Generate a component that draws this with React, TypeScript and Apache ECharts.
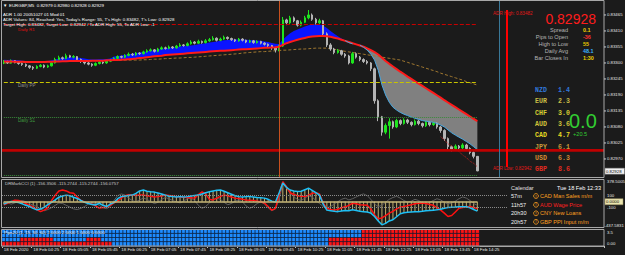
import React, { useEffect, useRef } from "react";
import * as echarts from "echarts";

// ---------- data ----------
const SLOTS = 164; // bar slots incl. right-side chart shift
const timeLabels = ["18 Feb 2020", "18 Feb 04:25", "18 Feb 05:05", "18 Feb 05:45", "18 Feb 06:25", "18 Feb 07:05", "18 Feb 07:45", "18 Feb 08:25", "18 Feb 09:05", "18 Feb 09:45", "18 Feb 10:25", "18 Feb 11:05", "18 Feb 11:45", "18 Feb 12:25", "18 Feb 13:05", "18 Feb 13:45", "18 Feb 14:25"];

const firstOpen = 0.833;
const closes = [0.83305,0.83300,0.83308,0.83302,0.83298,0.83295,0.83290,0.83285,0.83282,0.83288,
0.83292,0.83286,0.83290,0.83300,0.83312,0.83318,0.83315,0.83325,0.83320,0.83322,
0.83312,0.83305,0.83300,0.83296,0.83292,0.83298,0.83303,0.83300,0.83306,0.83310,
0.83316,0.83322,0.83320,0.83326,0.83330,0.83328,0.83334,0.83332,0.83338,0.83342,
0.83345,0.83340,0.83348,0.83352,0.83350,0.83355,0.83352,0.83358,0.83362,0.83360,
0.83366,0.83372,0.83368,0.83374,0.83370,0.83376,0.83380,0.83385,0.83378,0.83382,
0.83388,0.83384,0.83380,0.83376,0.83382,0.83378,0.83372,0.83376,0.83370,0.83374,
0.83368,0.83364,0.83360,0.83352,0.83345,0.83358,0.83448,0.83438,0.83455,0.83445,
0.83430,0.83440,0.83455,0.83465,0.83450,0.83438,0.83445,0.83400,0.83362,0.83348,
0.83336,0.83342,0.83330,0.83324,0.83300,0.83332,0.83320,0.83312,0.83305,0.83300,
0.83280,0.83170,0.83115,0.83062,0.83085,0.83098,0.83080,0.83102,0.83092,0.83104,
0.83096,0.83088,0.83100,0.83092,0.83084,0.83096,0.83088,0.83093,0.83080,0.83068,
0.83040,0.83012,0.83004,0.83014,0.83008,0.83018,0.83006,0.82992,0.82979,0.82929];
const highs = [0.83310,0.83308,0.83312,0.83310,0.83305,0.83301,0.83298,0.83293,0.83289,0.83292,
0.83296,0.83295,0.83294,0.83303,0.83318,0.83325,0.83322,0.83332,0.83328,0.83327,
0.83324,0.83315,0.83308,0.83303,0.83299,0.83302,0.83306,0.83306,0.83309,0.83314,
0.83320,0.83326,0.83325,0.83330,0.83336,0.83334,0.83338,0.83337,0.83342,0.83347,
0.83350,0.83348,0.83352,0.83357,0.83356,0.83360,0.83358,0.83362,0.83368,0.83365,
0.83371,0.83378,0.83375,0.83380,0.83377,0.83382,0.83386,0.83392,0.83388,0.83387,
0.83394,0.83391,0.83387,0.83383,0.83386,0.83385,0.83380,0.83380,0.83379,0.83378,
0.83376,0.83371,0.83367,0.83362,0.83355,0.83362,0.83458,0.83452,0.83462,0.83460,
0.83448,0.83446,0.83462,0.83482,0.83470,0.83455,0.83452,0.83448,0.83405,0.83368,
0.83352,0.83348,0.83345,0.83334,0.83328,0.83338,0.83336,0.83324,0.83316,0.83310,
0.83303,0.83284,0.83175,0.83118,0.83092,0.83110,0.83102,0.83108,0.83106,0.83110,
0.83108,0.83099,0.83106,0.83104,0.83095,0.83102,0.83100,0.83098,0.83096,0.83084,
0.83072,0.83044,0.83016,0.83020,0.83018,0.83024,0.83022,0.83010,0.82996,0.82980];
const lows = [0.83296,0.83297,0.83298,0.83299,0.83294,0.83290,0.83286,0.83280,0.83276,0.83279,
0.83285,0.83282,0.83283,0.83288,0.83298,0.83309,0.83311,0.83313,0.83317,0.83316,
0.83309,0.83300,0.83295,0.83292,0.83287,0.83289,0.83295,0.83296,0.83297,0.83303,
0.83307,0.83313,0.83316,0.83317,0.83323,0.83324,0.83325,0.83328,0.83329,0.83335,
0.83339,0.83336,0.83337,0.83345,0.83346,0.83347,0.83348,0.83349,0.83355,0.83356,
0.83357,0.83363,0.83364,0.83365,0.83366,0.83367,0.83373,0.83377,0.83374,0.83375,
0.83379,0.83380,0.83376,0.83372,0.83373,0.83374,0.83368,0.83369,0.83366,0.83367,
0.83364,0.83360,0.83355,0.83345,0.83336,0.83340,0.83355,0.83430,0.83434,0.83440,
0.83425,0.83426,0.83437,0.83450,0.83445,0.83432,0.83434,0.83395,0.83355,0.83342,
0.83330,0.83332,0.83325,0.83318,0.83295,0.83297,0.83315,0.83306,0.83300,0.83295,
0.83272,0.83160,0.83100,0.83050,0.83055,0.83040,0.83074,0.83076,0.83086,0.83088,
0.83090,0.83082,0.83085,0.83086,0.83078,0.83080,0.83082,0.83084,0.83074,0.83060,
0.83032,0.83002,0.82996,0.83000,0.83002,0.83004,0.83000,0.82986,0.82972,0.82928];

const slowMA = [0.83305,0.83305,0.83305,0.83304,0.83304,0.83304,0.83303,0.83303,0.83303,0.83303,0.83303,0.83303,0.83304,0.83304,0.83305,0.83305,0.83306,
0.83306,0.83307,0.83307,0.83307,0.83307,0.83307,0.83307,0.83308,0.83308,0.83308,0.83308,0.83309,0.83309,0.83310,0.83310,
0.83311,0.83312,0.83313,0.83314,0.83315,0.83317,0.83318,0.83320,0.83321,0.83323,0.83324,0.83325,0.83327,0.83328,
0.83329,0.83330,0.83331,0.83332,0.83333,0.83334,0.83335,0.83336,0.83337,0.83338,0.83339,0.83340,0.83341,0.83342,0.83342,0.83343,0.83344,0.83345,0.83346,0.83347,0.83347,0.83348,0.83349,0.83350,0.83351,0.83352,0.83352,0.83353,0.83354,
0.83356,0.83362,0.83368,0.83372,0.83376,0.83380,0.83383,0.83386,0.83389,0.83391,0.83392,0.83393,
0.83393,0.83392,0.83390,0.83387,0.83384,0.83380,0.83376,0.83372,0.83368,0.83364,0.83360,0.83356,0.83350,0.83344,0.83337,0.83329,0.83318,0.83307,0.83297,0.83288,0.83279,0.83270,0.83262,0.83253,0.83245,0.83237,0.83229,0.83221,0.83213,0.83205,0.83197,0.83189,0.83181,0.83172,0.83164,0.83156,0.83148,0.83140,0.83132,0.83124,0.83116,0.83108,0.83100];
const fastMA = [0.83311,0.83310,0.83311,0.83310,0.83309,0.83308,0.83307,0.83306,0.83305,0.83305,0.83306,0.83306,0.83307,0.83309,0.83312,0.83315,0.83317,0.83319,0.83320,0.83320,0.83319,0.83317,0.83315,0.83313,0.83312,0.83312,0.83313,0.83313,0.83314,0.83315,
0.83322,0.83324,0.83326,0.83328,0.83330,0.83332,0.83334,0.83336,0.83338,0.83340,0.83342,0.83344,0.83346,0.83348,0.83350,0.83352,
0.83353,0.83355,0.83357,0.83358,0.83359,0.83360,0.83362,0.83364,0.83366,0.83368,0.83370,0.83372,0.83374,0.83376,0.83378,0.83379,0.83380,0.83381,0.83381,0.83381,0.83380,0.83379,0.83378,0.83377,0.83376,0.83374,0.83372,0.83369,0.83366,
0.83365,0.83380,0.83392,0.83402,0.83410,0.83415,0.83420,0.83425,0.83430,0.83432,0.83432,0.83432,
0.83428,0.83420,0.83410,0.83400,0.83392,0.83384,0.83377,0.83370,0.83366,0.83364,0.83361,0.83354,0.83344,0.83330,
0.83310,0.83275,0.83225,0.83190,0.83165,0.83148,0.83138,0.83130,0.83124,0.83119,0.83114,0.83110,0.83106,0.83102,0.83100,0.83098,0.83096,0.83092,0.83087,0.83080,0.83070,0.83060,0.83052,0.83045,0.83038,0.83030,0.83022,0.83012,0.83002];
const trendMA = [0.83300,0.83300,0.83300,0.83301,0.83301,0.83301,0.83302,0.83302,0.83302,0.83303,0.83303,0.83303,0.83304,0.83304,0.83304,0.83305,0.83305,0.83305,0.83306,0.83306,0.83306,0.83307,0.83307,0.83307,0.83307,0.83308,0.83308,0.83308,0.83308,0.83309,0.83309,0.83309,0.83309,0.83310,0.83310,0.83310,0.83310,0.83310,
0.83311,0.83311,0.83312,0.83313,0.83313,0.83314,0.83315,0.83315,0.83316,0.83317,0.83317,0.83318,0.83319,0.83319,0.83320,0.83321,
0.83322,0.83323,0.83324,0.83325,0.83326,0.83327,0.83328,0.83329,0.83330,0.83331,0.83332,0.83334,
0.83335,0.83336,0.83337,0.83338,0.83339,0.83339,0.83340,0.83341,0.83342,0.83343,0.83344,0.83344,0.83345,0.83346,0.83347,0.83348,0.83348,0.83349,0.83350,0.83351,
0.83351,0.83351,0.83351,
0.83349,0.83347,0.83345,0.83342,0.83340,
0.83338,0.83336,0.83334,0.83332,0.83330,0.83328,0.83326,0.83324,0.83322,0.83320,0.83318,0.83316,0.83314,0.83312,0.83310,
0.83306,0.83302,0.83298,0.83294,0.83290,0.83286,0.83282,0.83278,0.83274,0.83270,0.83265,0.83261,0.83257,0.83253,0.83249,0.83245,0.83241,0.83236,0.83232,0.83228,0.83224];
const lowTrailStart = 119;
const lowTrail = [0.83046,0.83036,0.83022,0.83015,0.83003,0.82996,0.82983,0.82975,0.82962,0.82955,0.82943];

const cciMain = [-40,-15,5,-5,-15,-35,-60,-80,-110,-135,
-120,-95,-50,-10,30,75,95,110,100,75,
55,20,-10,-30,-45,-55,-25,-60,-80,-40,
-15,50,85,95,105,110,140,180,195,175,
165,160,145,130,110,90,85,80,85,80,
85,95,105,110,130,150,165,180,190,195,
175,150,125,100,85,80,85,85,80,70,
65,60,40,10,-5,150,310,240,195,180,
170,175,200,225,190,150,110,-40,-140,-150,
-160,-165,-155,-145,-150,-135,-145,-160,-165,-170,
-190,-245,-320,-385,-360,-320,-300,-250,-200,-185,
-175,-170,-165,-165,-160,-150,-145,-140,-135,-125,
-110,-95,-90,-88,-85,-83,-85,-100,-130,-156];
const cciSignal = [-50,-25,0,25,20,0,-30,-60,-85,-130,
-165,-140,-100,20,110,180,195,180,150,140,
80,20,-5,-20,-40,-70,-105,-95,-85,-60,
-20,10,60,100,115,110,105,110,110,100,
90,80,85,95,110,105,95,85,80,75,
70,65,60,120,165,130,40,30,60,90,
110,100,80,60,55,40,30,25,20,10,
0,-20,-80,-140,-110,120,335,250,150,120,
100,90,85,110,140,150,130,-20,-110,-130,
-140,-125,-100,-85,-60,-25,-35,-50,-55,-60,
-120,-220,-285,-270,-230,-190,-160,-120,-90,-80,
-65,-50,-35,-25,-22,-30,-45,-60,-100,-140,
-190,-245,-230,-170,-110,-95,-85,-80,-95,-115];
const cciSlow = [0,-20,-40,-20,10,20,0,-30,-60,-80,
-120,-150,-130,-100,-60,-20,-30,-60,-90,-120,
-130,-110,-80,-40,-20,-30,-60,-100,-115,-80,
20,100,130,110,60,20,0,30,60,40,
0,-30,-10,40,70,50,20,0,-20,10,
50,60,20,-60,-110,-80,-20,30,60,40,
-10,-50,-30,10,30,0,-70,-110,-80,-30,
0,-40,-100,-150,-120,40,300,230,140,80,
40,20,60,100,80,20,-30,-80,-100,-80,
-40,0,40,60,30,50,80,110,130,100,
40,-40,-80,-60,-10,40,70,90,60,20,
-10,10,40,20,-20,-40,-10,20,50,30,
-10,-40,-20,10,50,80,60,20,-30,-60];
const cciMax = 378.5005;
const cciMin = -437.5831;

// heat rows, top to bottom: bar ranges that are red (rest blue)
const heatRedRuns = [
  [[98, 129]],
  [[98, 129]],
  [[5, 13], [23, 26], [89, 129]],
  [[0, 29], [89, 129]],
];

const priceTicks = [0.83465, 0.8341, 0.83355, 0.833, 0.83245, 0.8319, 0.83135, 0.8308, 0.83025, 0.8297];
const adrHigh = 0.83482, dailyR1 = 0.83434, dailyPP = 0.83235, dailyS1 = 0.83114, dailyS2 = 0.82915, adrLow = 0.82942, bid = 0.82928;

const statLabels = ["Spread", "Pips to Open", "High to Low", "Daily Avg", "Bar Closes In"];
const statValues = ["0.1", "-36", "55", "48.1", "1:30"];
const statColors = ["#f0d000", "#ff3030", "#e8c800", "#3cb4ff", "#f0d000"];

const currencyCodes = ["NZD", "EUR", "CHF", "AUD", "CAD", "JPY", "USD", "GBP"];
const currencyStrength = [1.4, 2.3, 3.0, 3.6, 4.7, 6.1, 6.3, 8.6];
const currencyColors = ["#3278dc", "#c8bc46", "#d4cc32", "#d2c43a", "#e6da22", "#c89a3a", "#d48a32", "#e02a20"];

const calTimes = ["57m", "11h57", "20h30", "20h57"];
const calEvents = ["CAD Man Sales m/m", "AUD Wage Price", "CNY New Loans", "GBP PPI Input m/m"];
const calColors = ["#ffa020", "#ff2020", "#ffa020", "#ffa020"];

// ---------- styling ----------
const BG = "#1b1b1b";
const FONT = '"Liberation Sans", Arial, sans-serif';
const MONO = '"Liberation Mono", "DejaVu Sans Mono", monospace';
const BORDER = "#a8a8a8";

function txt(x: number, y: number, text: string, fill: string, size: number, align = "left", weight = "normal", family = FONT) {
  return {
    type: "text", x, y, silent: true, z: 100,
    style: { text, fill, font: `${weight} ${size}px ${family}`, align, verticalAlign: "middle" },
  };
}
function ln(x1: number, y1: number, x2: number, y2: number, stroke: string, lineWidth = 1, lineDash?: number[]) {
  return { type: "line", silent: true, z: 95, shape: { x1, y1, x2, y2 }, style: { stroke, lineWidth, lineDash } };
}

function buildOption() {
  const n = closes.length;
  const last = n - 1;
  const cats = Array.from({ length: SLOTS }, (_, i) => String(i));
  const opens = closes.map((c, i) => (i === 0 ? firstOpen : closes[i - 1]));
  const candles = closes.map((c, i) => [opens[i], c, lows[i], highs[i]]);
  const bandBase = fastMA.map((f, i) => Math.min(f, slowMA[i]));
  const bandUp = fastMA.map((f, i) => (f > slowMA[i] ? +(f - slowMA[i]).toFixed(5) : 0));
  const bandDown = fastMA.map((f, i) => (f < slowMA[i] ? +(slowMA[i] - f).toFixed(5) : 0));
  const fastEdge = fastMA.map((f, i) => (f < slowMA[i] || (i + 1 < n && fastMA[i + 1] < slowMA[i + 1]) ? f : null));
  const trail = closes.map((_, i) => (i >= lowTrailStart ? lowTrail[i - lowTrailStart] : null));

  const heatData: number[][] = [];
  heatRedRuns.forEach((runs, r) => {
    for (let i = 0; i < n; i++) {
      const red = runs.some(([a, b]) => i >= a && i <= b);
      heatData.push([i, 3 - r, red ? 0 : 1]);
    }
  });

  const hSeg = (v: number, color: string, type: string, width: number) => [
    { coord: [0, v], lineStyle: { color, type, width } },
    { coord: [last, v] },
  ];
  const labelEvery = (idx: number) => idx % 8 === 0 && idx / 8 < timeLabels.length;
  const hiddenX = (gridIndex: number) => ({ type: "category", gridIndex, data: cats, boundaryGap: true, show: false });

  return {
    animation: false,
    backgroundColor: BG,
    grid: [
      { left: 2, top: 1, width: 602, height: 176, outerBoundsMode: "none" },
      { left: 2, top: 179, width: 602, height: 49, outerBoundsMode: "none" },
      { left: 2, top: 229.5, width: 602, height: 16.5, outerBoundsMode: "none" },
    ],
    xAxis: [
      hiddenX(0),
      hiddenX(1),
      {
        type: "category", gridIndex: 2, data: cats, boundaryGap: true,
        axisLine: { show: true, lineStyle: { color: BORDER, width: 1 } },
        axisTick: { show: true, interval: labelEvery, length: 2, lineStyle: { color: "#c0c0c0" } },
        axisLabel: {
          show: true, interval: labelEvery, formatter: (_v: string, idx: number) => timeLabels[idx / 8] ?? "",
          color: "#e6e6e6", fontSize: 4.4, fontFamily: FONT, align: "left", margin: 1.5,
        },
      },
    ],
    yAxis: [
      { type: "value", gridIndex: 0, min: 0.82908, max: 0.83513, show: false, splitLine: { show: false } },
      { type: "value", gridIndex: 1, min: cciMin, max: cciMax, show: false, splitLine: { show: false } },
      { type: "category", gridIndex: 2, data: ["0", "1", "2", "3"], show: false },
    ],
    visualMap: [{ type: "piecewise", show: false, seriesIndex: 12, dimension: 2, pieces: [{ value: 0, color: "#ff1414" }, { value: 1, color: "#1e8cff" }] }],
    series: [
      { type: "line", xAxisIndex: 0, yAxisIndex: 0, data: bandBase, stack: "band", stackStrategy: "all", showSymbol: false, lineStyle: { opacity: 0 }, z: 1, silent: true },
      { type: "line", xAxisIndex: 0, yAxisIndex: 0, data: bandUp, stack: "band", stackStrategy: "all", showSymbol: false, lineStyle: { opacity: 0 }, areaStyle: { color: "#0a14ff", opacity: 1 }, z: 1, silent: true },
      { type: "line", xAxisIndex: 0, yAxisIndex: 0, data: bandDown, stack: "band", stackStrategy: "all", showSymbol: false, lineStyle: { opacity: 0 }, areaStyle: { color: "#808080", opacity: 1 }, z: 1, silent: true },
      { type: "line", xAxisIndex: 0, yAxisIndex: 0, data: trendMA, showSymbol: false, lineStyle: { color: "#a07830", width: 1, type: [3, 2] }, z: 2, silent: true },
      {
        type: "candlestick", xAxisIndex: 0, yAxisIndex: 0, data: candles, barWidth: 2, z: 3, silent: true,
        itemStyle: { color: "#1ee61e", color0: "#b4b4b4", borderColor: "#1ee61e", borderColor0: "#b4b4b4", borderWidth: 1 },
        markLine: {
          silent: true, symbol: ["none", "none"], label: { show: false }, animation: false,
          data: [
            { yAxis: adrHigh, lineStyle: { color: "#e00000", width: 1.5, type: "solid" } },
            hSeg(dailyR1, "#c80000", "dashed", 1),
            hSeg(dailyPP, "#c8c400", "dashed", 1),
            hSeg(dailyS1, "#3a8a3a", "dotted", 1),
            hSeg(dailyS2, "#3a8a3a", "dotted", 1),
            { yAxis: bid, lineStyle: { color: "#9a9a9a", width: 1, type: "solid" } },
            { yAxis: adrLow, lineStyle: { color: "#c00000", width: 2.5, type: "solid" } },
            { xAxis: 75, lineStyle: { color: "#c8501e", width: 1, type: "solid" } },
            { xAxis: 135, lineStyle: { color: "#3a7898", width: 1, type: "solid" } },
            [{ coord: [137, adrHigh], lineStyle: { color: "#ff0000", width: 2, type: "solid" } }, { coord: [137, adrLow] }],
          ],
        },
      },
      { type: "line", xAxisIndex: 0, yAxisIndex: 0, data: slowMA, showSymbol: false, lineStyle: { color: "#ff1a1a", width: 2 }, z: 4, silent: true },
      { type: "line", xAxisIndex: 0, yAxisIndex: 0, data: fastEdge, showSymbol: false, lineStyle: { color: "#4aa8e0", width: 1 }, z: 4, silent: true },
      { type: "line", xAxisIndex: 0, yAxisIndex: 0, data: trail, showSymbol: false, lineStyle: { color: "#c02020", width: 1, type: "dotted" }, z: 4, silent: true },
      {
        type: "bar", xAxisIndex: 1, yAxisIndex: 1, data: cciMain, barWidth: 1, itemStyle: { color: "#bfae6e" }, z: 1, silent: true,
        markLine: {
          silent: true, symbol: ["none", "none"], label: { show: false }, animation: false,
          data: [
            { yAxis: 100, lineStyle: { color: "#8a8a8a", width: 1, type: "dotted" } },
            { yAxis: -100, lineStyle: { color: "#8a8a8a", width: 1, type: "dotted" } },
            [{ coord: [0, 0], lineStyle: { color: "#c8b878", width: 1.5, type: "solid" } }, { coord: [last, 0] }],
          ],
        },
      },
      { type: "line", xAxisIndex: 1, yAxisIndex: 1, data: cciSlow, showSymbol: false, lineStyle: { color: "#5e5e5e", width: 1 }, z: 2, silent: true },
      { type: "line", xAxisIndex: 1, yAxisIndex: 1, data: cciSignal, showSymbol: false, lineStyle: { color: "#ff1010", width: 1.5 }, z: 3, silent: true },
      { type: "line", xAxisIndex: 1, yAxisIndex: 1, data: cciMain, showSymbol: false, lineStyle: { color: "#1ec0f5", width: 1.5 }, z: 4, silent: true },
      { type: "heatmap", xAxisIndex: 2, yAxisIndex: 2, data: heatData, itemStyle: { borderColor: "#0c1a30", borderWidth: 0.7 }, silent: true, z: 1 },
    ],
  };
}

function buildGraphics(py0: (v: number) => number, py1: (v: number) => number) {
  const g: any[] = [];
  // panel borders
  g.push({ type: "rect", silent: true, z: 95, shape: { x: 1.5, y: 0.5, width: 602.5, height: 177 }, style: { fill: "none", stroke: BORDER, lineWidth: 1 } });
  g.push({ type: "rect", silent: true, z: 95, shape: { x: 1.5, y: 179.5, width: 602.5, height: 48 }, style: { fill: "none", stroke: BORDER, lineWidth: 1 } });
  g.push({ type: "rect", silent: true, z: 95, shape: { x: 1.5, y: 229.5, width: 602.5, height: 16.5 }, style: { fill: "none", stroke: BORDER, lineWidth: 1 } });

  // header texts
  g.push(txt(3, 5, "▼", "#ffffff", 4.4));
  g.push(txt(9, 5, "EURGBP,M5  0.82979 0.82980 0.82928 0.82929", "#ffffff", 4.4));
  g.push(txt(3, 14, "ADR 1.00 20051027 01 Mod 01", "#ffffff", 4.4));
  g.push(txt(3, 19.2, "ADR Values: 84, Reached: Yes, Today's Range: 55, T's High: 0.83482, T's Low: 0.82928", "#ffffff", 4.4));
  g.push(txt(3, 24.2, "Target High: 0.83482, Target Low: 0.82942 / To ADR High: 55, To ADR Low: -1", "#ffffff", 4.4));
  g.push(txt(18, py0(dailyR1) + 5.5, "Daily R1", "#e01010", 4.4));
  g.push(txt(18, py0(dailyPP) + 4, "Daily PP", "#8c8c8c", 4.6));
  g.push(txt(18, py0(dailyS1) + 3.5, "Daily S1", "#3f9a3f", 4.6));

  // price axis
  priceTicks.forEach((v) => {
    const y = py0(v);
    g.push(ln(604, y, 606, y, "#c8c8c8"));
    g.push(txt(607, y, v.toFixed(5), "#e6e6e6", 4.3));
  });
  const by = py0(bid);
  g.push({ type: "rect", silent: true, z: 99, shape: { x: 605, y: by - 3, width: 19.5, height: 6 }, style: { fill: "#f2f2f2", stroke: "#808080", lineWidth: 0.5 } });
  g.push(txt(606, by, bid.toFixed(5), "#000000", 4.3));

  // right info panel
  g.push(txt(493, py0(adrHigh) + 3.5, "ADR High: " + adrHigh.toFixed(5), "#e01818", 4.6));
  g.push(txt(596, 19, bid.toFixed(5), "#ff1c1c", 14, "right"));
  const statY = [30.2, 37, 44, 51.2, 57.8];
  statLabels.forEach((s, i) => {
    g.push(txt(568, statY[i], s, "#b4b4b4", 5.6, "right"));
    g.push(txt(583, statY[i], statValues[i], statColors[i], 5.4, "left", "bold"));
  });
  const curY = [90, 101.5, 113, 124.5, 135.5, 147, 158.5, 169.5];
  currencyCodes.forEach((c, i) => {
    g.push(txt(535, curY[i], c, currencyColors[i], 6.6, "left", "bold", MONO));
    g.push(txt(558, curY[i], currencyStrength[i].toFixed(1), currencyColors[i], 6.6, "left", "bold", MONO));
  });
  g.push(txt(569, 121, "0.0", "#32cd32", 20));
  g.push(txt(573, 134, "+20.5", "#32cd32", 5.6));
  g.push(txt(493, py0(adrLow) + 1.5, "ADR Low: " + adrLow.toFixed(5), "#e01818", 4.6));

  // CCI panel
  g.push(txt(5, 183.5, "DRMarkCCI (1) -156.3506 -115.2744 -115.2744 -156.0757", "#c8c8c8", 4.4));
  g.push(txt(607, py1(cciMax) + 2.7, cciMax.toFixed(4), "#e6e6e6", 4.3));
  g.push(txt(607, py1(100), "100", "#e6e6e6", 4.3));
  g.push(txt(607, py1(-100), "-100", "#e6e6e6", 4.3));
  g.push(txt(604.5, py1(cciMin) - 2.7, cciMin.toFixed(4), "#e6e6e6", 4.3));
  const zy = py1(0);
  g.push({ type: "rect", silent: true, z: 99, shape: { x: 605, y: zy - 3, width: 18, height: 6 }, style: { fill: "#ece6b0", stroke: "#9a9060", lineWidth: 0.5 } });
  g.push(txt(606, zy, "0.0000", "#000000", 4.3));

  // calendar widget
  g.push({ type: "rect", silent: true, z: 90, shape: { x: 507, y: 183, width: 96.5, height: 44.5 }, style: { fill: BG } });
  g.push(txt(511, 188, "Calendar", "#e0e0e0", 5.6));
  g.push(txt(601, 188, "Tue 18 Feb 12:33", "#ffffff", 5.6, "right"));
  const calY = [196, 204.8, 213.3, 221.8];
  calTimes.forEach((t, i) => {
    g.push(txt(511, calY[i], t, "#f0f0f0", 5.6));
    g.push({ type: "circle", silent: true, z: 100, shape: { cx: 536, cy: calY[i], r: 2.4 }, style: { fill: "none", stroke: "#ffa020", lineWidth: 0.8 } });
    g.push(txt(536, calY[i], "!", "#ffa020", 4, "center", "bold"));
    g.push(txt(540, calY[i], calEvents[i], calColors[i], 5.6));
  });

  // heat panel
  g.push(txt(4, 232.3, "Pips20 (1, 15, 30, 60) 2.0000 2.0000 1.0000 0.0000", "#ffffff", 4.4));
  g.push(txt(607, 232.5, "3.5", "#e6e6e6", 4.3));
  g.push(txt(607, 243, "0.00", "#e6e6e6", 4.3));
  return g;
}

export default function App() {
  const ref = useRef<HTMLDivElement>(null);
  useEffect(() => {
    document.body.style.margin = "0";
    const el = ref.current!;
    const chart = echarts.init(el, null, { renderer: "svg" });
    chart.setOption(buildOption() as any);
    const py0 = (v: number) => chart.convertToPixel({ yAxisIndex: 0 } as any, v) as unknown as number;
    const py1 = (v: number) => chart.convertToPixel({ yAxisIndex: 1 } as any, v) as unknown as number;
    chart.setOption({ graphic: buildGraphics(py0, py1) } as any);
    return () => chart.dispose();
  }, []);
  return <div ref={ref} style={{ width: 625, height: 255, background: BG }} />;
}
